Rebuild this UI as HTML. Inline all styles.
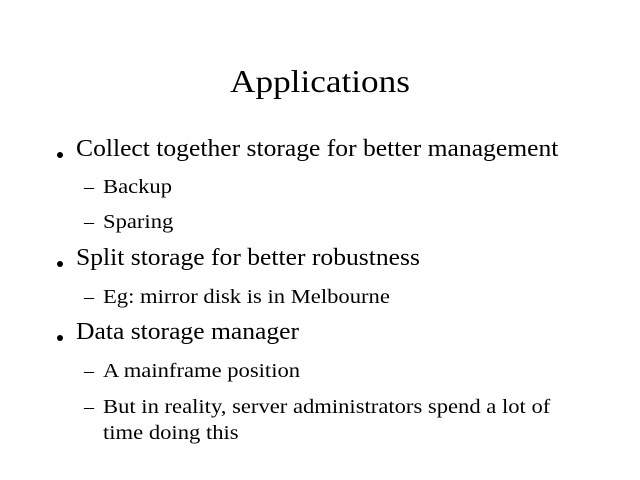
<!DOCTYPE html>
<html><head><meta charset="utf-8"><style>
html,body{margin:0;padding:0;background:#fff;}
body{width:640px;height:480px;position:relative;overflow:hidden;font-family:"Liberation Serif",serif;color:#000;}
div{position:absolute;white-space:nowrap;}
.t{font-size:32px;line-height:32px;left:0;width:640px;text-align:center;top:65px;transform:scaleX(1.1);transform-origin:center;}
.b{font-size:24px;line-height:24px;left:76px;transform:scaleX(1.066);transform-origin:left;}
.bd{position:absolute;width:6px;height:6px;border-radius:50%;background:#000;left:57px;}
.s{font-size:20px;line-height:20px;left:103px;transform:scaleX(1.13);transform-origin:left;}
.d{font-size:20px;line-height:20px;left:84px;}
</style></head><body>
<div class="t">Applications</div>

<span class="bd" style="top:152px"></span>
<div class="b" style="top:137px">Collect together storage for better management</div>
<div class="d" style="top:177px">–</div><div class="s" style="top:177px">Backup</div>
<div class="d" style="top:212px">–</div><div class="s" style="top:212px">Sparing</div>

<span class="bd" style="top:261px"></span>
<div class="b" style="top:246px">Split storage for better robustness</div>
<div class="d" style="top:287px">–</div><div class="s" style="top:287px">Eg: mirror disk is in Melbourne</div>

<span class="bd" style="top:335px"></span>
<div class="b" style="top:320px">Data storage manager</div>
<div class="d" style="top:361px">–</div><div class="s" style="top:361px">A mainframe position</div>
<div class="d" style="top:397px">–</div><div class="s" style="top:397px">But in reality, server administrators spend a lot of</div>
<div class="s" style="top:423px">time doing this</div>
</body></html>
